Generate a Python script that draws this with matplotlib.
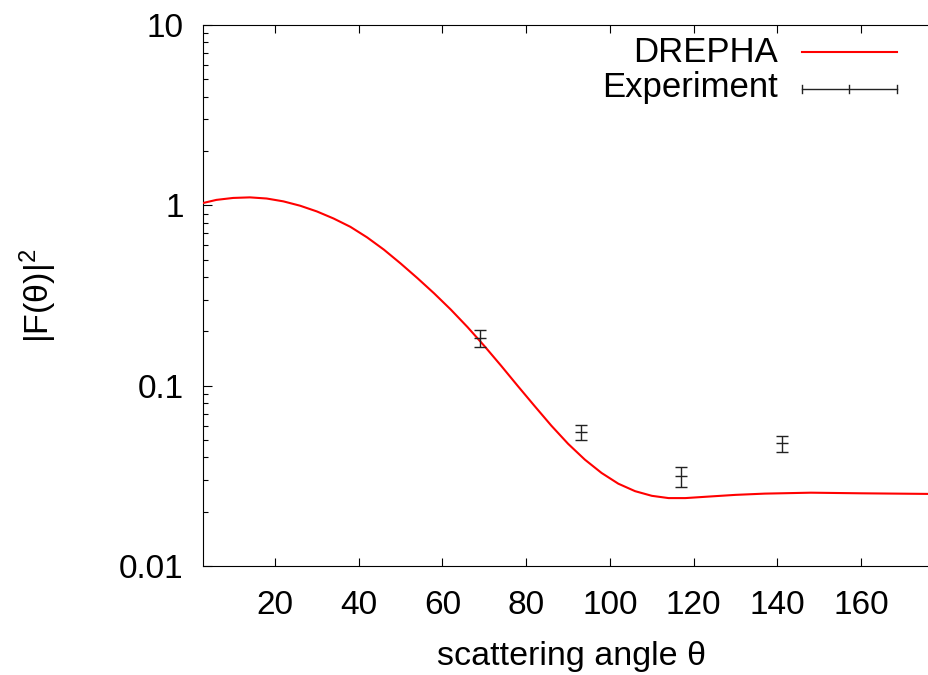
import matplotlib
matplotlib.use("Agg")
import matplotlib.pyplot as plt
from matplotlib.lines import Line2D
from matplotlib.ticker import FixedLocator, FixedFormatter, LogLocator, NullFormatter

plt.rcParams['font.family'] = ['Liberation Sans', 'DejaVu Sans']
plt.rcParams['mathtext.fontset'] = 'custom'
plt.rcParams['mathtext.rm'] = 'Liberation Sans'
plt.rcParams['mathtext.it'] = 'Liberation Sans'

# DREPHA theory curve
theory_angle = [2.8, 6, 10, 14, 18, 22, 26, 30, 34, 38, 42, 46, 50, 54, 58, 62, 66, 70,
                74, 78, 82, 86, 90, 94, 98, 102, 106, 110, 114, 118, 124, 130, 137,
                148, 160, 176.2]
theory_value = [1.030, 1.072, 1.099, 1.107, 1.091, 1.052, 0.995, 0.925, 0.845, 0.760,
                0.664, 0.568, 0.476, 0.395, 0.325, 0.264, 0.211, 0.166, 0.129, 0.0995,
                0.0771, 0.0600, 0.0476, 0.0389, 0.0328, 0.0286, 0.0260, 0.0245, 0.0238,
                0.0238, 0.0243, 0.0248, 0.0252, 0.0255, 0.0253, 0.0251]

# Experiment
exp_angle = [69, 93, 117, 141]
exp_value = [0.1844, 0.0551, 0.0315, 0.0479]
exp_error = [0.0198, 0.0051, 0.0040, 0.0050]

x_ticks = [20, 40, 60, 80, 100, 120, 140, 160]
y_ticks = [0.01, 0.1, 1, 10]
y_tick_labels = ["0.01", "0.1", "1", "10"]

W, H = 929, 675
fig = plt.figure(figsize=(W / 100, H / 100), dpi=100)
left, right, top, bottom = 203, 929, 25, 566
ax = fig.add_axes([left / W, 1 - bottom / H, (right - left) / W, (bottom - top) / H])

ax.plot(theory_angle, theory_value, color='#ff0000', lw=1.5, zorder=3,
        solid_joinstyle='round')
ax.errorbar(exp_angle, exp_value, yerr=exp_error, fmt='_', color='#222222',
            ms=9, mew=1.0, elinewidth=1.0, capsize=4.5, capthick=1.0, zorder=4)

ax.set_yscale('log')
ax.set_xlim(2.8, 176.2)
ax.set_ylim(0.01, 10)

ax.xaxis.set_major_locator(FixedLocator(x_ticks))
ax.yaxis.set_major_locator(FixedLocator(y_ticks))
ax.yaxis.set_major_formatter(FixedFormatter(y_tick_labels))
ax.yaxis.set_minor_locator(LogLocator(base=10, subs=range(2, 10)))
ax.yaxis.set_minor_formatter(NullFormatter())

ax.spines['right'].set_visible(False)
for s in ['left', 'top', 'bottom']:
    ax.spines[s].set_linewidth(0.8)

ax.tick_params(axis='x', which='major', direction='in', length=6, width=0.8,
               top=True, bottom=True, labelsize=24, pad=17)
ax.tick_params(axis='y', which='major', direction='in', length=6.5, width=0.8,
               left=True, right=False, labelsize=24, pad=14)
ax.tick_params(axis='y', which='minor', direction='in', length=3.5, width=0.8,
               left=True, right=False)

ax.set_xlabel('scattering angle θ', fontsize=24.5)
ax.xaxis.set_label_coords((572 - left) / (right - left), -(657 - bottom) / (bottom - top), transform=ax.transAxes)
ax.xaxis.label.set_va('center')
ax.set_ylabel('|F(θ)|$^2$', fontsize=24.5)
ax.yaxis.set_label_coords(-(203 - 38) / (right - left), 0.5)
ax.yaxis.label.set_va('center')

# Legend (gnuplot style, key at top right)
def fx(px):
    return px / W

def fy(py):
    return 1 - py / H

fig.text(fx(778), fy(52), 'DREPHA', ha='right', va='center', fontsize=25)
fig.text(fx(778), fy(88), 'Experiment', ha='right', va='center', fontsize=25)
fig.add_artist(Line2D([fx(802), fx(897)], [fy(52), fy(52)], color='#ff0000', lw=1.5))
fig.add_artist(Line2D([fx(802), fx(897)], [fy(89), fy(89)], color='#222222', lw=1.0))
for px in (802, 849.5, 897):
    fig.add_artist(Line2D([fx(px), fx(px)], [fy(85), fy(93)], color='#222222', lw=1.0))

fig.savefig('out.png', dpi=100)
